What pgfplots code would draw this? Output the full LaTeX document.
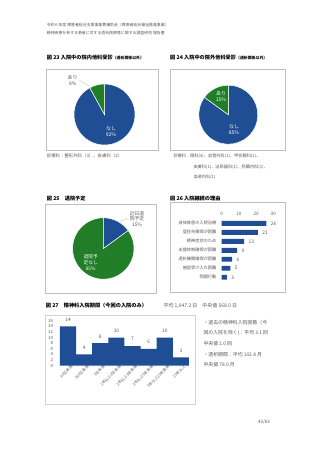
\documentclass[border=0pt]{standalone}
\usepackage{fontspec}
\setmainfont{Noto Sans CJK JP}
\usepackage{pgfplots}
\usepackage{pgfplotstable}
\pgfplotsset{compat=1.18}
\definecolor{pblue}{RGB}{31,78,148}
\definecolor{pgreen}{RGB}{33,125,40}
\definecolor{tgray}{RGB}{89,89,89}
\definecolor{bgray}{RGB}{191,191,191}
\newcommand{\fs}[1]{\fontsize{#1}{#1}\selectfont}

% Fig 26 data
\pgfplotstableread[col sep=comma]{
idx,label,value
0,身体疾患の入院治療,26
1,居住先確保が困難,21
2,精神症状のため,13
3,支援体制確保が困難,9
4,透析機関確保が困難,6
5,施設受け入れ困難,5
6,問題行動,3
}\reasons

% Fig 27 data
\pgfplotstableread[col sep=comma]{
idx,label,value
0,90日未満,14
1,180日未満,4
2,1年未満,8
3,1年以上2年未満,10
4,2年以上3年未満,7
5,3年以上5年未満,6
6,5年以上10年未満,10
7,10年以上,3
}\period

% pie values (percent)
\def\pieAyes{8}
\def\pieByes{15}
\def\pieCsoon{15}

\begin{document}
\begin{tikzpicture}[x=1pt,y=1pt]
\path[fill=white] (0,0) rectangle (320,453);

% header
\node[anchor=west, inner sep=0pt, font=\fs{3.9}, text=tgray] at (46.7,428) {令和６年度 障害者総合支援事業費補助金（障害者総合福祉推進事業）};
\node[anchor=west, inner sep=0pt, font=\fs{3.9}, text=tgray] at (46.7,420) {精神疾患を有する患者に対する透析医療等に関する調査研究 報告書};

% titles
\node[anchor=west, inner sep=0pt, font=\fs{5.2}\bfseries] at (46.7,395.7) {図 23 入院中の院内他科受診{\fs{3.9}（透析関係以外）}};
\node[anchor=west, inner sep=0pt, font=\fs{5.2}\bfseries] at (170,395.7) {図 24 入院中の院外他科受診{\fs{3.9}（透析関係以外）}};

% boxes
\draw[bgray, line width=0.7pt] (46.7,303) rectangle (158,383.7);
\draw[bgray, line width=0.7pt] (170.7,303) rectangle (285.7,383.7);

% Pie 23
\pgfmathsetmacro{\aA}{90+3.6*\pieAyes}
\begin{axis}[hide axis, scale only axis, width=61pt, height=61pt, xmin=-1, xmax=1, ymin=-1, ymax=1, at={(104.5pt,338.5pt)}, anchor=center, clip=false]
\fill[pblue, draw=white, line width=0.5pt] (axis cs:0,0) -- (axis cs:{cos(\aA)},{sin(\aA)}) arc[start angle=\aA, end angle=450, radius=30.5pt] -- cycle;
\fill[pgreen, draw=white, line width=0.5pt] (axis cs:0,0) -- (axis cs:0,1) arc[start angle=90, end angle=\aA, radius=30.5pt] -- cycle;
\end{axis}
\draw[bgray, line width=0.4pt] (79.5,372.5) -- (90,366.5);
\node[align=center, font=\fs{5}, text=tgray, inner sep=0pt] at (72.7,372) {あり\\[1pt]8\%};
\node[align=center, font=\fs{5}, text=white, inner sep=0pt] at (111,321) {なし\\[1pt]92\%};

% Pie 24
\pgfmathsetmacro{\aB}{90+3.6*\pieByes}
\begin{axis}[hide axis, scale only axis, width=59pt, height=59pt, xmin=-1, xmax=1, ymin=-1, ymax=1, at={(228.3pt,338.3pt)}, anchor=center, clip=false]
\fill[pblue, draw=white, line width=0.5pt] (axis cs:0,0) -- (axis cs:{cos(\aB)},{sin(\aB)}) arc[start angle=\aB, end angle=450, radius=29.5pt] -- cycle;
\fill[pgreen, draw=white, line width=0.5pt] (axis cs:0,0) -- (axis cs:0,1) arc[start angle=90, end angle=\aB, radius=29.5pt] -- cycle;
\end{axis}
\node[align=center, font=\fs{5}, text=white, inner sep=0pt] at (221,356.7) {あり\\[1pt]15\%};
\node[align=center, font=\fs{5}, text=white, inner sep=0pt] at (234,323) {なし\\[1pt]85\%};

% captions under pies
\node[anchor=west, inner sep=0pt, font=\fs{4.4}, text=tgray] at (46.7,297.3) {診療科：整形外科（3）、皮膚科（2）};
\node[anchor=west, inner sep=0pt, font=\fs{4.2}, text=tgray] at (173.3,297.3) {診療科：眼科(4)、血管外科(1)、甲状腺科(1)、};
\node[anchor=west, inner sep=0pt, font=\fs{4.2}, text=tgray] at (193.3,286.3) {皮膚科(1)、泌尿器科(1)、肝臓内科(1)、};
\node[anchor=west, inner sep=0pt, font=\fs{4.2}, text=tgray] at (193.3,276.3) {血液内科(1)};

% Fig 25
\node[anchor=west, inner sep=0pt, font=\fs{5.2}\bfseries] at (46.7,254.5) {図 25　退院予定};
\draw[bgray, line width=0.7pt] (45.7,159.7) rectangle (156.7,249);
\pgfmathsetmacro{\aC}{90-3.6*\pieCsoon}
\begin{axis}[hide axis, scale only axis, width=61.4pt, height=61.4pt, xmin=-1, xmax=1, ymin=-1, ymax=1, at={(103.3pt,204.5pt)}, anchor=center, clip=false]
\fill[pgreen, draw=white, line width=0.5pt] (axis cs:0,0) -- (axis cs:0,1) arc[start angle=450, end angle=\aC, radius=30.7pt] -- cycle;
\fill[pblue, draw=white, line width=0.5pt] (axis cs:0,0) -- (axis cs:0,1) arc[start angle=90, end angle=\aC, radius=30.7pt] -- cycle;
\end{axis}
\draw[bgray, line width=0.4pt] (120,231.5) -- (128,234.5);
\node[align=center, font=\fs{4.8}, text=tgray, inner sep=0pt] at (137,234.3) {近日退\\[0.8pt]院予定\\[0.8pt]15\%};
\node[align=center, font=\fs{4.8}, text=white, inner sep=0pt] at (90.7,190.5) {退院予\\[0.8pt]定なし\\[0.8pt]85\%};

% Fig 26
\node[anchor=west, inner sep=0pt, font=\fs{5.2}\bfseries] at (170,254.5) {図 26 入院継続の理由};
\draw[bgray, line width=0.7pt] (170,161) rectangle (285,251);
\begin{axis}[xbar, scale only axis, width=51.6pt, height=63pt, at={(221.7pt,171.2pt)}, anchor=south west,
  xmin=0, xmax=30, ymin=-0.5, ymax=6.5, y dir=reverse, bar width=4.9pt,
  xtick={0,10,20,30}, xticklabel pos=upper, ytick=data, yticklabels from table={\reasons}{label},
  axis line style={draw=none}, major tick length=0pt,
  tick label style={font=\fs{4.6}, text=tgray},
  yticklabel style={font=\fs{4.2}, xshift=-1.8pt},
  /pgf/number format/assume math mode=true,
  nodes near coords, nodes near coords style={font=\fs{4.8}, text=tgray, xshift=1pt},
  clip=false]
\addplot[fill=pblue, draw=none] table[x=value, y=idx] {\reasons};
\end{axis}

% Fig 27
\node[anchor=west, inner sep=0pt, font=\fs{5.2}\bfseries] at (45.7,147) {図 27　精神科入院期間（今回の入院のみ）};
\node[anchor=west, inner sep=0pt, font=\fs{5}, text=tgray] at (163.3,147) {平均 1,047.2 日　中央値 568.0 日};
\draw[bgray!70, line width=0.7pt] (45.7,49) rectangle (195,138);
\begin{axis}[ybar, scale only axis, width=129pt, height=45pt, at={(60pt,87.3pt)}, anchor=south west,
  xmin=-0.5, xmax=7.5, ymin=0, ymax=16, bar width=16.125pt,
  ytick={0,2,...,16}, xtick=data, xticklabels from table={\period}{label},
  axis line style={draw=none}, major tick length=0pt,
  tick label style={font=\fs{4.3}, text=tgray},
  yticklabel style={xshift=-3.5pt},
  xticklabel style={font=\fs{3.8}, inner sep=0.5pt, rotate=45, anchor=east, xshift=3pt, yshift=-3pt},
  /pgf/number format/assume math mode=true,
  nodes near coords, nodes near coords style={font=\fs{4.8}, text=tgray, yshift=1.5pt},
  clip=false]
\addplot[fill=pblue, draw=none] table[x=idx, y=value] {\period};
\end{axis}

% right-side text
\node[anchor=west, inner sep=0pt, font=\fs{4.9}, text=tgray] at (203.3,130) {・過去の精神科入院回数（今};
\node[anchor=west, inner sep=0pt, font=\fs{4.9}, text=tgray] at (203.3,119.7) {回の入院を除く)：平均 3.1 回};
\node[anchor=west, inner sep=0pt, font=\fs{4.9}, text=tgray] at (203.3,109.7) {中央値 1.0 回};
\node[anchor=west, inner sep=0pt, font=\fs{4.9}, text=tgray] at (203.3,98.7) {・透析期間：平均 102.8 月};
\node[anchor=west, inner sep=0pt, font=\fs{4.9}, text=tgray] at (203.3,88) {中央値 78.0 月};

% page number
\node[anchor=west, inner sep=0pt, font=\fs{4.5}, text=tgray] at (258,31.3) {42/83};
\end{tikzpicture}
\end{document}
